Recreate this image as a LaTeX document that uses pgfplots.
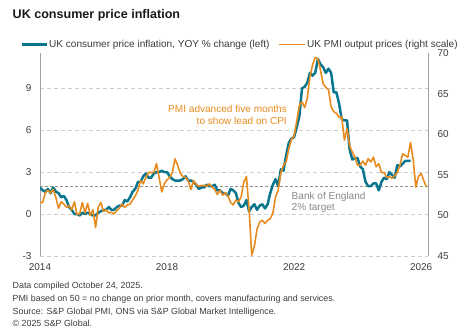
\documentclass[border=0pt]{standalone}
\usepackage{fontspec}
\setmainfont{Liberation Sans}
\usepackage{pgfplots}
\pgfplotsset{compat=1.18}
\definecolor{cpiteal}{RGB}{10,118,142}
\definecolor{pmiorange}{RGB}{232,139,30}
\definecolor{axgray}{RGB}{160,160,160}
\definecolor{gridgray}{RGB}{205,205,205}
\definecolor{txt}{RGB}{60,60,60}
\begin{document}
\begin{tikzpicture}
\useasboundingbox (0,0) rectangle (469bp,332bp);
% title
\node[anchor=base west, inner sep=0, font=\fontsize{12.6}{14}\selectfont\bfseries, text=black!90] at (12.5bp,313.5bp) {UK consumer price inflation};
% legend
\draw[cpiteal, line width=2.6bp] (22bp,287.5bp) -- (47bp,287.5bp);
\node[anchor=west, inner sep=0, font=\fontsize{10.1}{12}\selectfont, text=txt] at (49bp,287.5bp) {UK consumer price inflation, YOY \% change (left)};
\draw[pmiorange, line width=1.6bp] (279bp,287.5bp) -- (305bp,287.5bp);
\node[anchor=west, inner sep=0, font=\fontsize{10.1}{12}\selectfont, text=txt] at (307bp,287.5bp) {UK PMI output prices (right scale)};

\begin{axis}[
  at={(40bp,76bp)}, anchor=south west, scale only axis,
  width=388bp, height=202.7bp,
  xmin=0, xmax=146.6, ymin=-3, ymax=11.5,
  axis y line*=left, axis x line*=bottom,
  x axis line style={draw=none},
  y axis line style={axgray, line width=0.8bp},
  major tick length=0,
  xtick={0,48,96,144}, xticklabels={2014,2018,2022,2026},
  ytick={-3,0,3,6,9},
  ymajorgrids,
  grid style={gridgray, line width=0.6bp, dash pattern=on 4bp off 3bp},
  tick label style={font=\fontsize{10}{12}\selectfont, text=txt},
  xticklabel style={yshift=-4bp},
  yticklabel style={xshift=-5bp},
  /pgf/number format/assume math mode=true,
]
\addplot[axgray!90!black, line width=0.6bp, dash pattern=on 3bp off 2bp, forget plot] coordinates {(0,2) (146.6,2)};
\addplot[cpiteal, line width=2.5bp, line join=round, no marks] table[x=m,y=v] {
m v
0 1.9
1 1.7
2 1.6
3 1.8
4 1.5
5 1.9
6 1.6
7 1.5
8 1.2
9 1.3
10 1.0
11 0.5
12 0.3
13 0.0
14 0.0
15 -0.1
16 0.1
17 0.0
18 0.1
19 0.0
20 -0.1
21 -0.1
22 0.1
23 0.2
24 0.3
25 0.3
26 0.5
27 0.3
28 0.3
29 0.5
30 0.6
31 0.6
32 1.0
33 0.9
34 1.2
35 1.6
36 1.8
37 2.3
38 2.3
39 2.7
40 2.9
41 2.6
42 2.6
43 2.9
44 3.0
45 3.0
46 3.1
47 3.0
48 3.0
49 2.7
50 2.5
51 2.4
52 2.4
53 2.4
54 2.5
55 2.7
56 2.4
57 2.4
58 2.3
59 2.1
60 1.8
61 1.9
62 1.9
63 2.1
64 2.0
65 2.0
66 2.1
67 1.7
68 1.7
69 1.5
70 1.5
71 1.3
72 1.8
73 1.7
74 1.5
75 0.8
76 0.5
77 0.6
78 1.0
79 0.2
80 0.5
81 0.7
82 0.3
83 0.6
84 0.7
85 0.4
86 0.7
87 1.5
88 2.1
89 2.5
90 2.0
91 3.2
92 3.1
93 4.2
94 5.1
95 5.4
96 5.5
97 6.2
98 7.0
99 9.0
100 9.1
101 9.4
102 10.1
103 9.9
104 10.1
105 11.1
106 10.7
107 10.5
108 10.1
109 10.4
110 10.1
111 8.7
112 8.7
113 7.9
114 6.8
115 6.7
116 6.7
117 4.6
118 3.9
119 4.0
120 4.0
121 3.4
122 3.2
123 2.3
124 2.0
125 2.0
126 2.2
127 2.2
128 1.7
129 2.3
130 2.6
131 2.5
132 3.0
133 2.8
134 2.6
135 3.5
136 3.4
137 3.6
138 3.8
139 3.8
140 3.8
};
\end{axis}

\begin{axis}[
  at={(40bp,76bp)}, anchor=south west, scale only axis,
  width=388bp, height=202.7bp,
  xmin=0, xmax=146.6, ymin=45, ymax=70,
  axis y line*=right, axis x line=none,
  y axis line style={axgray, line width=0.8bp},
  major tick length=0,
  ytick={45,50,55,60,65,70},
  tick label style={font=\fontsize{10}{12}\selectfont, text=txt},
  yticklabel style={xshift=6bp},
  /pgf/number format/assume math mode=true,
  clip=false,
]
\addplot[pmiorange, line width=1.6bp, line join=round, no marks] table[x=m,y=p] {
m p
0 51.6
1 51.6
2 52.8
3 53.1
4 52.8
5 53.2
6 52.2
7 50.9
8 51.7
9 51.4
10 51.0
11 51.2
12 50.7
13 51.7
14 50.1
15 50.2
16 51.6
17 50.3
18 51.5
19 50.0
20 50.7
21 48.5
22 51.0
23 51.6
24 50.5
25 50.7
26 50.3
27 50.4
28 50.2
29 50.6
30 50.9
31 51.4
32 51.0
33 51.3
34 51.4
35 51.9
36 52.4
37 53.1
38 54.3
39 53.9
40 54.7
41 55.3
42 55.3
43 55.3
44 56.4
45 54.7
46 52.9
47 53.9
48 54.4
49 54.7
50 55.3
51 57.0
52 56.2
53 55.2
54 54.8
55 54.7
56 54.3
57 53.2
58 54.3
59 53.8
60 53.6
61 53.7
62 53.7
63 53.6
64 53.9
65 53.5
66 53.2
67 52.6
68 53.1
69 52.5
70 52.8
71 52.4
72 51.6
73 51.3
74 51.9
75 51.7
76 52.3
77 54.1
78 54.8
79 50.7
80 45.1
81 46.2
82 48.3
83 49.2
84 49.4
85 49.0
86 49.4
87 49.6
88 50.3
89 52.3
90 53.1
91 55.3
92 56.2
93 56.6
94 58.2
95 59.4
96 59.8
97 61.6
98 63.6
99 64.0
100 63.3
101 64.5
102 67.1
103 68.6
104 69.5
105 69.3
106 67.9
107 66.2
108 65.8
109 65.5
110 63.4
111 62.8
112 62.6
113 62.1
114 62.2
115 59.3
116 60.7
117 58.6
118 57.8
119 57.2
120 56.2
121 56.2
122 56.7
123 56.2
124 57.0
125 56.6
126 57.2
127 56.0
128 56.4
129 55.3
130 55.3
131 54.7
132 54.8
133 54.6
134 54.9
135 55.3
136 56.2
137 57.6
138 57.4
139 57.2
140 59.0
141 56.9
142 53.5
143 54.8
144 55.2
145 54.3
146 53.5
};
\end{axis}

% annotations
\node[anchor=east, inner sep=0, font=\fontsize{10.1}{12}\selectfont, text=pmiorange] at (287bp,223bp) {PMI advanced five months};
\node[anchor=east, inner sep=0, font=\fontsize{10.1}{12}\selectfont, text=pmiorange] at (287bp,211.5bp) {to show lead on CPI};
\node[anchor=west, inner sep=0, font=\fontsize{10.1}{12}\selectfont, text=axgray!85!black] at (291.5bp,135.5bp) {Bank of England};
\node[anchor=west, inner sep=0, font=\fontsize{10.1}{12}\selectfont, text=axgray!85!black] at (291.5bp,124bp) {2\% target};

% footnotes
\node[anchor=base west, inner sep=0, font=\fontsize{8.9}{10}\selectfont, text=txt] at (12.5bp,43bp) {Data compiled October 24, 2025.};
\node[anchor=base west, inner sep=0, font=\fontsize{8.9}{10}\selectfont, text=txt] at (12.5bp,30.5bp) {PMI based on 50 = no change on prior month, covers manufacturing and services.};
\node[anchor=base west, inner sep=0, font=\fontsize{8.9}{10}\selectfont, text=txt] at (12.5bp,18bp) {Source: S\&P Global PMI, ONS via S\&P Global Market Intelligence.};
\node[anchor=base west, inner sep=0, font=\fontsize{8.9}{10}\selectfont, text=txt] at (12.5bp,6bp) {© 2025 S\&P Global.};
\end{tikzpicture}
\end{document}
